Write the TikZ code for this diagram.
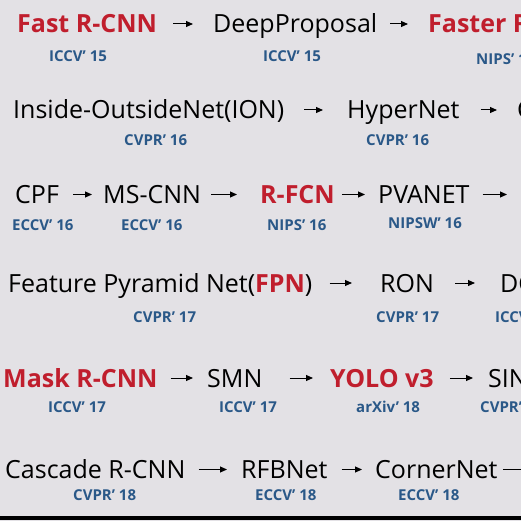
\documentclass[tikz,border=0pt]{standalone}
\usepackage{fontspec}
\setmainfont{Open Sans}
\usepackage{xcolor}
\usepackage{tikz}
\usetikzlibrary{arrows.meta, positioning}
\definecolor{paperbg}{RGB}{227, 225, 229}
\definecolor{detred}{RGB}{192, 30, 45}
\definecolor{venueblue}{RGB}{42, 88, 136}

\begin{document}
\begin{tikzpicture}[x=1pt, y=-1pt,
    model/.style={anchor=west, inner sep=0pt,
        text height=18pt, text depth=0pt,
        font=\fontsize{25}{30}\selectfont},
    keymodel/.style={model,
        font=\fontsize{25}{30}\selectfont\bfseries, text=detred},
    venue/.style={anchor=west, inner sep=0pt,
        text height=10.7pt, text depth=0pt,
        font=\fontsize{15}{18}\selectfont\bfseries, text=venueblue},
    arr/.style={-{Triangle[length=7pt, width=6pt]}, line width=1pt},
]

\useasboundingbox (0,0) rectangle (521,521);
\fill[paperbg] (0,0) rectangle (521,521);
\clip (0,0) rectangle (521,521);

% ── ROW 1 (2015) ────────────────────────────────────────────────────────────
\node[keymodel] at (17,  24)  (fast)   {Fast R-CNN};
\node[model]    at (213, 24)  (deep)   {DeepProposal};
\node[keymodel] at (428, 24)  (faster) {Faster R};
\node[venue]    at (49,  56)  (fastv)   {ICCV’ 15};
\node[venue]    at (263, 56)  (deepv)   {ICCV’ 15};
\node[venue]    at (476, 59)  (fasterv) {NIPS’ 1};

\draw[arr, shorten <=16pt, shorten >=20pt] (fast.east) -- (deep.west);
\draw[arr, shorten <=13pt, shorten >=20pt] (deep.east) -- (faster.west);

% ── ROW 2 (2016) ────────────────────────────────────────────────────────────
\node[model]    at (13,  110) (ion)    {Inside-OutsideNet(ION)};
\node[model]    at (347, 110) (hyper)  {HyperNet};
\node[model]    at (517, 110) (craft)  {C};
\node[venue]    at (124, 140) (ionv)    {CVPR’ 16};
\node[venue]    at (366, 140) (hyperv)  {CVPR’ 16};

\draw[arr, shorten <=20pt, shorten >=24pt] (ion.east) -- (hyper.west);
\draw[arr, shorten <=21pt, shorten >=20pt] (hyper.east) -- (craft.west);

% ── ROW 3 (2016) ────────────────────────────────────────────────────────────
\node[model]    at (15,  194.5) (cpf)   {CPF};
\node[model]    at (103, 194.5) (mscnn) {MS-CNN};
\node[keymodel] at (260, 194.5) (rfcn)  {R-FCN};
\node[model]    at (378, 194.5) (pva)   {PVANET};
\coordinate (pvaend) at (507, 194.5);
\node[venue]    at (12,  225) (cpfv)   {ECCV’ 16};
\node[venue]    at (121, 225) (mscnnv) {ECCV’ 16};
\node[venue]    at (267, 225) (rfcnv)  {NIPS’ 16};
\node[venue]    at (388, 223) (pvav)   {NIPSW’ 16};

\draw[arr, shorten <=14pt, shorten >=11pt] (cpf.east) -- (mscnn.west);
\draw[arr, shorten <=10pt, shorten >=23pt] (mscnn.east) -- (rfcn.west);
\draw[arr, shorten <=7pt,  shorten >=13pt] (rfcn.east) -- (pva.west);
\draw[arr, shorten <=13pt] (pva.east) -- (pvaend);

% ── ROW 4 (2017) ────────────────────────────────────────────────────────────
\node[model]    at (8,   283) (fpn) {Feature Pyramid Net(\textcolor{detred}{\bfseries FPN})};
\node[model]    at (380, 283) (ron) {RON};
\node[model]    at (500, 283) (dcn) {DC};
\node[venue]    at (133, 317) (fpnv) {CVPR’ 17};
\node[venue]    at (376, 317) (ronv) {CVPR’ 17};
\node[venue]    at (495, 317) (dcnv) {ICCV};

\draw[arr, shorten <=17pt, shorten >=28pt] (fpn.east) -- (ron.west);
\draw[arr, shorten <=21pt, shorten >=25pt] (ron.east) -- (dcn.west);

% ── ROW 5 (2017-18) ─────────────────────────────────────────────────────────
\node[keymodel] at (3,   378) (mask) {Mask R-CNN};
\node[model]    at (207, 378) (smn)  {SMN};
\node[keymodel] at (330, 378) (yolo) {YOLO v3};
\node[model]    at (488, 378) (sin)  {SIN};
\node[venue]    at (48,  407.5) (maskv) {ICCV’ 17};
\node[venue]    at (219, 407.5) (smnv)  {ICCV’ 17};
\node[venue]    at (356, 407.5) (yolov) {arXiv’ 18};
\node[venue]    at (480, 407.5) (sinv)  {CVPR’};

\draw[arr, shorten <=13pt, shorten >=14pt] (mask.east) -- (smn.west);
\draw[arr, shorten <=27pt, shorten >=17pt] (smn.east) -- (yolo.west);
\draw[arr, shorten <=16pt, shorten >=15pt] (yolo.east) -- (sin.west);

% ── ROW 6 (2018) ────────────────────────────────────────────────────────────
\node[model]    at (5,   469.5) (cascade) {Cascade R-CNN};
\node[model]    at (241, 469.5) (rfb)     {RFBNet};
\node[model]    at (375, 469.5) (corner)  {CornerNet};
\coordinate (cornerend) at (540, 469.5);
\node[venue]    at (73,  495) (cascadev) {CVPR’ 18};
\node[venue]    at (255, 495) (rfbv)     {ECCV’ 18};
\node[venue]    at (398, 495) (cornerv)  {ECCV’ 18};

\draw[arr, shorten <=13pt, shorten >=14pt] (cascade.east) -- (rfb.west);
\draw[arr, shorten <=14pt, shorten >=13pt] (rfb.east) -- (corner.west);
\draw[arr, shorten <=5pt] (corner.east) -- (cornerend);

% bottom edge of the slide
\fill[black] (0,516) rectangle (521,520);

\end{tikzpicture}
\end{document}
